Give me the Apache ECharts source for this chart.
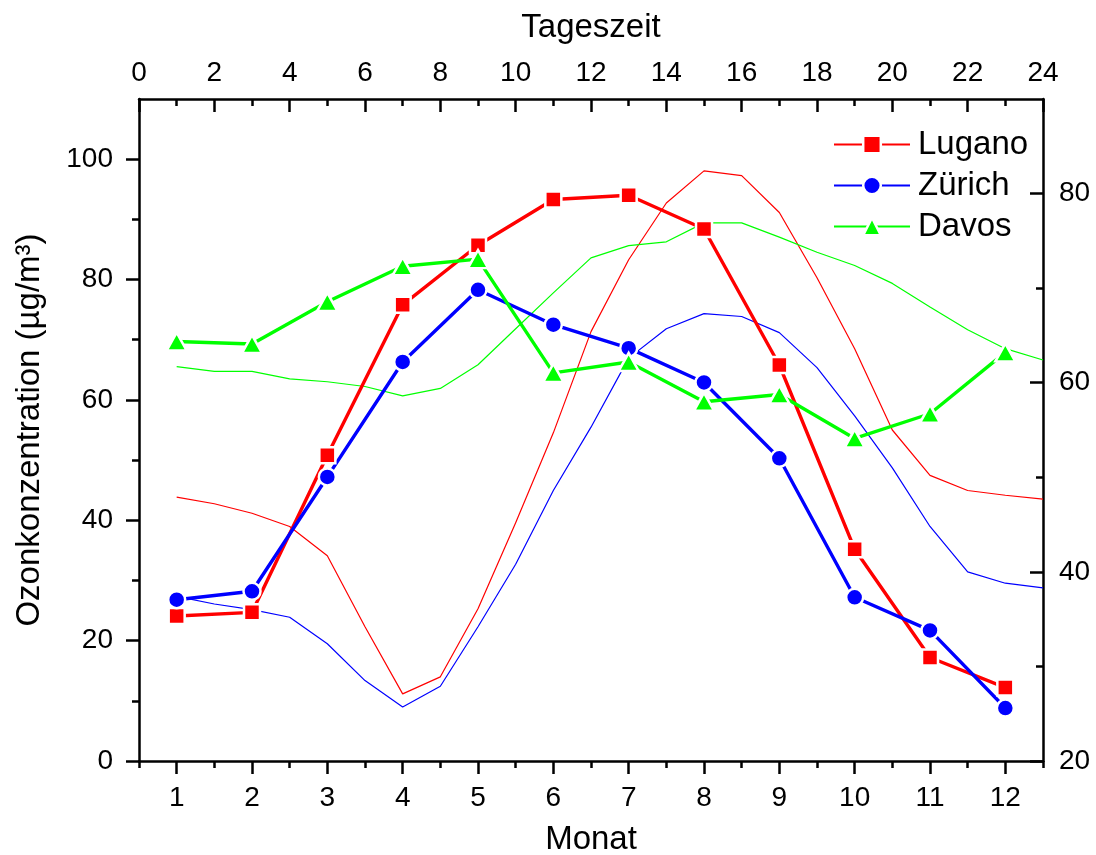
<!DOCTYPE html>
<html>
<head>
<meta charset="utf-8">
<script src="https://cdn.jsdelivr.net/npm/echarts@6/dist/echarts.min.js"></script>
<style>
html,body{margin:0;padding:0;background:#fff;}
#chart{width:1096px;height:855px;}
</style>
</head>
<body>
<div id="chart"></div>
<script>
// Monthly means (bottom axis: Monat, left axis: µg/m³)
var months = [1,2,3,4,5,6,7,8,9,10,11,12];
var luganoMonth = [24.1, 24.7, 50.8, 75.8, 85.7, 93.3, 94.0, 88.4, 65.8, 35.2, 17.2, 12.2];
var zurichMonth = [26.8, 28.2, 47.2, 66.3, 78.3, 72.5, 68.6, 62.9, 50.3, 27.2, 21.7, 8.8];
var davosMonth  = [69.7, 69.3, 76.3, 82.2, 83.4, 64.5, 66.3, 59.7, 60.9, 53.6, 57.7, 67.9];

// Daily cycle (top axis: Tageszeit, right axis)
var hours = [1,2,3,4,5,6,7,8,9,10,11,12,13,14,15,16,17,18,19,20,21,22,23,24];
var luganoDay = [47.9, 47.2, 46.2, 44.8, 41.7, 34.2, 27.1, 28.9, 36.1, 45.2, 54.7, 65.4, 73.0, 79.0, 82.4, 81.9, 78.0, 71.1, 63.6, 55.0, 50.2, 48.6, 48.1, 47.7];
var zurichDay = [37.4, 36.6, 36.0, 35.2, 32.4, 28.5, 25.7, 27.9, 34.2, 40.8, 48.6, 55.3, 62.6, 65.7, 67.3, 67.0, 65.3, 61.6, 56.5, 51.0, 44.8, 40.0, 38.8, 38.3];
var davosDay  = [61.7, 61.2, 61.2, 60.4, 60.1, 59.6, 58.6, 59.4, 61.9, 65.7, 69.5, 73.2, 74.5, 74.9, 76.9, 76.9, 75.4, 73.8, 72.4, 70.5, 68.0, 65.6, 63.6, 62.4];

// Tick values
var monthTicks = months;
var monthMinorTicks = [0.5,1.5,2.5,3.5,4.5,5.5,6.5,7.5,8.5,9.5,10.5,11.5,12.5];
var hourTicks = [0,2,4,6,8,10,12,14,16,18,20,22,24];
var hourMinorTicks = [1,3,5,7,9,11,13,15,17,19,21,23];
var leftTicks = [0,20,40,60,80,100];
var leftMinorTicks = [10,30,50,70,90];
var rightTicks = [20,40,60,80];
var rightMinorTicks = [30,50,70];

var FONT = 'Liberation Sans, Arial, sans-serif';
var AXW = 2.5;

function pairs(xs, ys){ return xs.map(function(x,i){ return [x, ys[i]]; }); }

function mainAxis(extra){
  var base = {
    type:'value',
    splitLine:{show:false},
    axisLine:{show:true, onZero:false, lineStyle:{color:'#000', width:AXW}},
    axisTick:{show:true, length:13, lineStyle:{color:'#000', width:AXW}},
    axisLabel:{color:'#000', fontSize:28, fontFamily:FONT},
    nameTextStyle:{color:'#000', fontSize:33, fontFamily:FONT}
  };
  return echarts.util.merge(base, extra, true);
}
function minorAxis(extra){
  var base = {
    type:'value',
    splitLine:{show:false},
    axisLine:{show:false, onZero:false},
    axisTick:{show:true, length:7, lineStyle:{color:'#000', width:AXW}},
    axisLabel:{show:false}
  };
  return echarts.util.merge(base, extra, true);
}

var chart = echarts.init(document.getElementById('chart'), null, {renderer:'canvas'});

var option = {
  animation:false,
  backgroundColor:'#fff',
  grid:{left:139, right:53, top:99, bottom:94, containLabel:false, outerBoundsMode:'none'},
  legend:{
    data:['Lugano','Zürich','Davos'],
    orient:'vertical',
    left:828, top:123,
    itemWidth:76, itemHeight:22, itemGap:8,
    itemStyle:{borderColor:'#fff', borderWidth:2.5},
    textStyle:{color:'#000', fontSize:33, fontFamily:FONT, padding:[0,0,0,3]}
  },
  xAxis:[
    mainAxis({position:'bottom', min:0.5, max:12.5,
      axisTick:{customValues:monthTicks},
      axisLabel:{customValues:monthTicks, margin:23},
      name:'Monat', nameLocation:'middle', nameGap:62}),
    minorAxis({position:'bottom', min:0.5, max:12.5,
      axisTick:{customValues:monthMinorTicks}}),
    mainAxis({position:'top', min:0, max:24,
      axisTick:{customValues:hourTicks, inside:true},
      axisLabel:{customValues:hourTicks, margin:12},
      name:'Tageszeit', nameLocation:'middle', nameGap:55}),
    minorAxis({position:'top', min:0, max:24,
      axisTick:{customValues:hourMinorTicks, inside:true}})
  ],
  yAxis:[
    mainAxis({position:'left', min:0, max:110,
      axisTick:{customValues:leftTicks},
      axisLabel:{customValues:leftTicks, margin:26},
      name:'Ozonkonzentration (µg/m³)', nameLocation:'middle', nameGap:93, nameRotate:90}),
    minorAxis({position:'left', min:0, max:110,
      axisTick:{customValues:leftMinorTicks}}),
    mainAxis({position:'right', min:20, max:90,
      axisTick:{customValues:rightTicks, inside:true},
      axisLabel:{customValues:rightTicks, margin:16}}),
    minorAxis({position:'right', min:20, max:90,
      axisTick:{customValues:rightMinorTicks, inside:true}})
  ],
  series:[
    {name:'Lugano Tageszeit', type:'line', xAxisIndex:2, yAxisIndex:2, data:pairs(hours, luganoDay),
      showSymbol:false, symbol:'none', lineStyle:{color:'#ff0000', width:1.2}, itemStyle:{color:'#ff0000'}, z:2},
    {name:'Zürich Tageszeit', type:'line', xAxisIndex:2, yAxisIndex:2, data:pairs(hours, zurichDay),
      showSymbol:false, symbol:'none', lineStyle:{color:'#0000ff', width:1.2}, itemStyle:{color:'#0000ff'}, z:2},
    {name:'Davos Tageszeit', type:'line', xAxisIndex:2, yAxisIndex:2, data:pairs(hours, davosDay),
      showSymbol:false, symbol:'none', lineStyle:{color:'#00ff00', width:1.2}, itemStyle:{color:'#00ff00'}, z:2},
    {name:'Lugano', type:'line', xAxisIndex:0, yAxisIndex:0, data:pairs(months, luganoMonth),
      symbol:'rect', symbolSize:16, showAllSymbol:true,
      lineStyle:{color:'#ff0000', width:3.4},
      itemStyle:{color:'#ff0000', borderColor:'#fff', borderWidth:2.5}, z:3},
    {name:'Zürich', type:'line', xAxisIndex:0, yAxisIndex:0, data:pairs(months, zurichMonth),
      symbol:'circle', symbolSize:17, showAllSymbol:true,
      lineStyle:{color:'#0000ff', width:3.4},
      itemStyle:{color:'#0000ff', borderColor:'#fff', borderWidth:2.5}, z:3},
    {name:'Davos', type:'line', xAxisIndex:0, yAxisIndex:0, data:pairs(months, davosMonth),
      symbol:'triangle', symbolSize:[20,18], showAllSymbol:true,
      lineStyle:{color:'#00ff00', width:3.4},
      itemStyle:{color:'#00ff00', borderColor:'#fff', borderWidth:2.5}, z:3}
  ]
};
chart.setOption(option);
</script>
</body>
</html>
